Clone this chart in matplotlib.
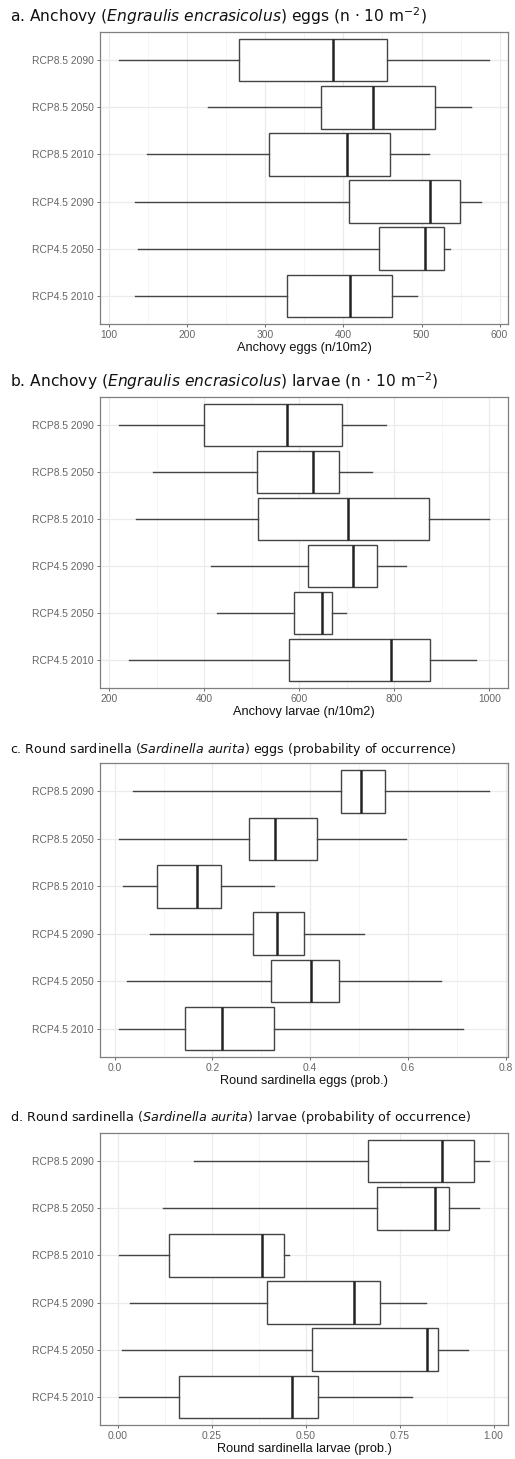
import numpy as np
import matplotlib
matplotlib.use('Agg')
import matplotlib.pyplot as plt
from matplotlib.ticker import FixedLocator

# categories, bottom to top
scenarios = ['RCP4.5 2010', 'RCP4.5 2050', 'RCP4.5 2090',
             'RCP8.5 2010', 'RCP8.5 2050', 'RCP8.5 2090']

# each row: whisker low, Q1, median, Q3, whisker high (same order as scenarios)
anchovy_eggs = [
    [133, 328, 408, 462, 494],
    [137, 446, 505, 529, 537],
    [133, 407, 511, 549, 576],
    [148, 305, 405, 460, 510],
    [226, 371, 438, 517, 564],
    [112, 266, 386, 456, 587],
]
anchovy_larvae = [
    [243, 578, 793, 876, 972],
    [428, 588, 648, 669, 699],
    [414, 619, 712, 764, 825],
    [257, 513, 702, 872, 1000],
    [293, 511, 629, 683, 754],
    [220, 400, 574, 689, 782],
]
sardinella_eggs = [
    [0.008, 0.143, 0.219, 0.326, 0.712],
    [0.025, 0.320, 0.401, 0.460, 0.668],
    [0.072, 0.284, 0.333, 0.388, 0.510],
    [0.018, 0.087, 0.168, 0.217, 0.326],
    [0.008, 0.274, 0.328, 0.415, 0.597],
    [0.037, 0.463, 0.505, 0.554, 0.767],
]
sardinella_larvae = [
    [0.002, 0.164, 0.464, 0.533, 0.783],
    [0.012, 0.516, 0.823, 0.852, 0.931],
    [0.033, 0.398, 0.628, 0.698, 0.821],
    [0.002, 0.136, 0.383, 0.443, 0.455],
    [0.119, 0.690, 0.844, 0.882, 0.962],
    [0.202, 0.665, 0.862, 0.947, 0.989],
]

titles = [
    r'a. Anchovy ($\mathit{Engraulis\ encrasicolus}$) eggs (n $\cdot$ 10 m$^{-2}$)',
    r'b. Anchovy ($\mathit{Engraulis\ encrasicolus}$) larvae (n $\cdot$ 10 m$^{-2}$)',
    r'c. Round sardinella ($\mathit{Sardinella\ aurita}$) eggs (probability of occurrence)',
    r'd. Round sardinella ($\mathit{Sardinella\ aurita}$) larvae (probability of occurrence)',
]
xlabels = ['Anchovy eggs (n/10m2)', 'Anchovy larvae (n/10m2)',
           'Round sardinella eggs (prob.)', 'Round sardinella larvae (prob.)']
major_ticks = [
    [100, 200, 300, 400, 500, 600],
    [200, 400, 600, 800, 1000],
    [0.0, 0.2, 0.4, 0.6, 0.8],
    [0.0, 0.25, 0.5, 0.75, 1.0],
]
tick_fmt = ['{:.0f}', '{:.0f}', '{:.1f}', '{:.2f}']
datasets = [anchovy_eggs, anchovy_larvae, sardinella_eggs, sardinella_larvae]

W, H = 515, 1459
fig = plt.figure(figsize=(W / 100, H / 100), dpi=100)

# axes boxes in pixels: (top, bottom)
boxes_px = [(32, 324), (397, 688), (763, 1057), (1133, 1425)]
title_y = [16, 381, 749, 1118]
title_size = [11.2, 11.2, 9.1, 9.15]

edge = '#444444'
for k, data in enumerate(datasets):
    top, bot = boxes_px[k]
    ax = fig.add_axes([100 / W, 1 - bot / H, 408 / W, (bot - top) / H])
    stats = []
    for row in data:
        stats.append({'whislo': row[0], 'q1': row[1], 'med': row[2],
                      'q3': row[3], 'whishi': row[4], 'fliers': []})
    ax.bxp(stats, positions=np.arange(1, 7), widths=0.9, vert=False,
           patch_artist=True, showcaps=False, showfliers=False,
           boxprops=dict(facecolor='white', edgecolor=edge, linewidth=1.0),
           whiskerprops=dict(color=edge, linewidth=1.0),
           medianprops=dict(color='#222222', linewidth=1.8), zorder=3)

    vals = np.array(data)
    lo, hi = vals.min(), vals.max()
    pad = (hi - lo) * 0.05
    ax.set_xlim(lo - pad, hi + pad)
    ax.set_ylim(0.4, 6.6)

    mt = major_ticks[k]
    ax.xaxis.set_major_locator(FixedLocator(mt))
    step = mt[1] - mt[0]
    ax.xaxis.set_minor_locator(FixedLocator([t + step / 2 for t in [mt[0] - step] + mt]))
    ax.set_xticklabels([tick_fmt[k].format(t) for t in mt])
    ax.set_yticks(np.arange(1, 7))
    ax.set_yticklabels(scenarios)

    ax.grid(True, which='major', color='#ebebeb', linewidth=0.9, zorder=0)
    ax.grid(True, which='minor', axis='x', color='#f4f4f4', linewidth=0.6, zorder=0)
    ax.set_axisbelow(True)
    for s in ax.spines.values():
        s.set_color('#7f7f7f')
        s.set_linewidth(0.9)
    ax.tick_params(which='major', length=2.5, width=0.6, color='#555555',
                   labelsize=7.4, labelcolor='#666666', pad=2)
    ax.tick_params(which='minor', length=0)
    for lab in ax.get_xticklabels() + ax.get_yticklabels():
        lab.set_family('Liberation Sans')
    ax.set_xlabel(xlabels[k], fontsize=9.2, family='Liberation Sans',
                  color='#111111', labelpad=1)

    fig.text(10 / W, 1 - title_y[k] / H, titles[k], fontsize=title_size[k],
             va='center', ha='left', color='#111111')

fig.savefig('out.png', dpi=100, facecolor='white')
